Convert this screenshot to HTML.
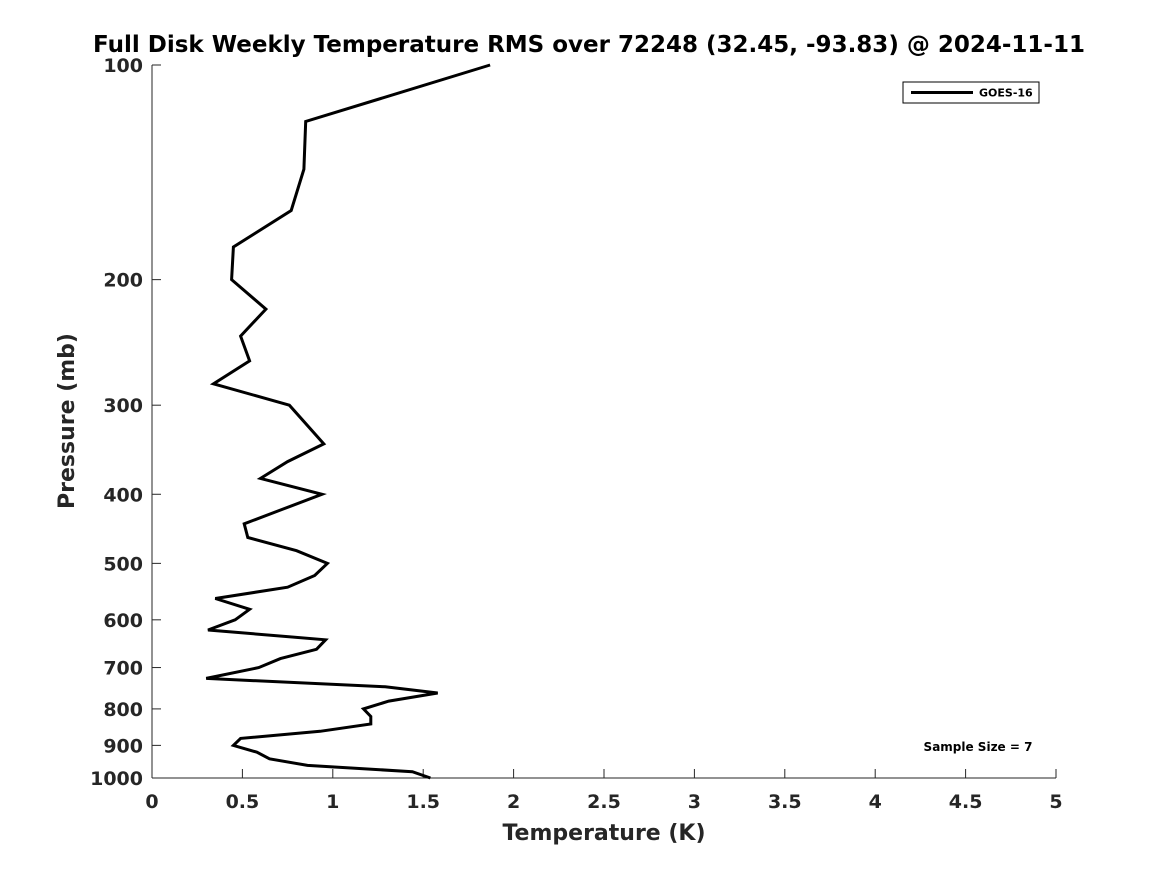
<!DOCTYPE html>
<html><head><meta charset="utf-8"><style>
html,body{margin:0;padding:0;background:#fff;}
svg{display:block;font-family:"DejaVu Sans","Liberation Sans",sans-serif;}
</style></head><body>
<svg id="chart" width="1167" height="875" viewBox="0 0 1167 875" xmlns="http://www.w3.org/2000/svg">
<rect width="1167" height="875" fill="#fff"/>
<text x="589" y="52" text-anchor="middle" font-size="23" font-weight="bold" fill="#000">Full Disk Weekly Temperature RMS over 72248 (32.45, -93.83) @ 2024-11-11</text>
<g id="axes"></g>
<g id="series"></g>
<g>
<rect x="903" y="82" width="136" height="21" fill="#fff" stroke="#000" stroke-width="1"/>
<line x1="911" y1="92.5" x2="973" y2="92.5" stroke="#000" stroke-width="3"/>
<text x="979" y="96.5" font-size="11" font-weight="bold" fill="#000">GOES-16</text>
</g>
<text x="978" y="751" text-anchor="middle" font-size="12" font-weight="bold" fill="#000">Sample Size = 7</text>
<text x="604" y="840" text-anchor="middle" font-size="22" font-weight="bold" fill="#262626">Temperature (K)</text>
<text transform="translate(74,421) rotate(-90)" text-anchor="middle" font-size="22" font-weight="bold" fill="#262626">Pressure (mb)</text>
</svg>
<script>
const pressures=[100,120,140,160,180,200,220,240,260,280,300,340,360,380,400,420,440,460,480,500,520,540,560,580,600,620,640,660,680,700,725,745,760,780,800,820,840,860,880,900,920,940,960,980,1000];
const temps=[1.87,0.85,0.84,0.77,0.45,0.44,0.63,0.49,0.54,0.34,0.76,0.95,0.75,0.60,0.94,0.72,0.51,0.53,0.80,0.97,0.90,0.75,0.35,0.54,0.46,0.31,0.96,0.91,0.71,0.59,0.30,1.29,1.58,1.31,1.17,1.21,1.21,0.93,0.49,0.45,0.58,0.65,0.86,1.44,1.54];
const xTicks=[0,0.5,1,1.5,2,2.5,3,3.5,4,4.5,5];
const xTickLabels=["0","0.5","1","1.5","2","2.5","3","3.5","4","4.5","5"];
const yTicks=[100,200,300,400,500,600,700,800,900,1000];
const yTickLabels=["100","200","300","400","500","600","700","800","900","1000"];

const X0=152,X1=1056,Y0=65,Y1=778;
function xs(t){return X0+(t-0)/(5-0)*(X1-X0);}
function ys(p){return Y0+(Math.log10(p)-2)/(3-2)*(Y1-Y0);}
const NS="http://www.w3.org/2000/svg";
const axes=document.getElementById('axes');
function mk(tag,attrs,parent){const e=document.createElementNS(NS,tag);for(const k in attrs)e.setAttribute(k,attrs[k]);parent.appendChild(e);return e;}

const xAxis=mk('line',{x1:X0,y1:Y1,x2:X1,y2:Y1,stroke:'#262626','stroke-width':1},axes);


const yAxis=mk('line',{x1:X0,y1:Y0,x2:X0,y2:Y1,stroke:'#262626','stroke-width':1},axes);



xTicks.forEach((t,i)=>{
  const x=xs(t);
  mk('line',{x1:x,y1:Y1,x2:x,y2:Y1-9,stroke:'#262626','stroke-width':1},axes);
  const tx=mk('text',{x:x,y:808,'text-anchor':'middle','font-size':19,'font-weight':'bold',fill:'#262626'},axes);
  tx.textContent=xTickLabels[i];
  
  
});
yTicks.forEach((p,i)=>{
  const y=ys(p);
  mk('line',{x1:X0,y1:y,x2:X0+9,y2:y,stroke:'#262626','stroke-width':1},axes);
  const tx=mk('text',{x:143,y:y+7,'text-anchor':'end','font-size':19,'font-weight':'bold',fill:'#262626'},axes);
  tx.textContent=yTickLabels[i];
  
  
});

const series=document.getElementById('series');
const pts=pressures.map((p,i)=>xs(temps[i]).toFixed(1)+','+ys(p).toFixed(1)).join(' ');
const line=mk('polyline',{points:pts,fill:'none',stroke:'#000','stroke-width':3,'stroke-linejoin':'miter'},series);


</script>
</body></html>
